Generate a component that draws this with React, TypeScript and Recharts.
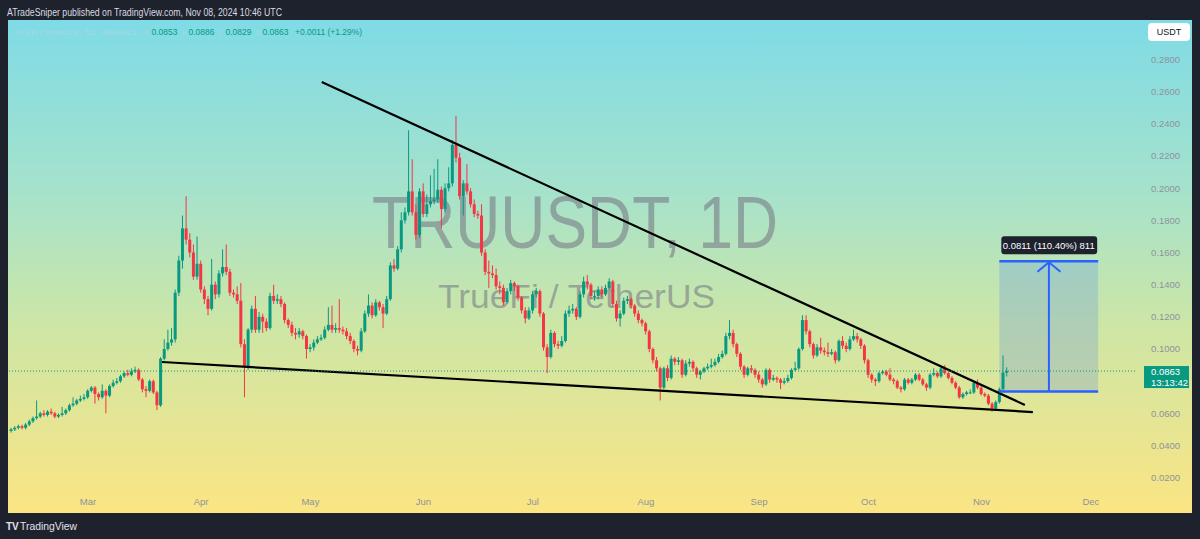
import React from "react"
import { ComposedChart, Bar, XAxis, YAxis, ReferenceLine, ReferenceArea } from "recharts"

const UP = "#089981"
const DOWN = "#f23645"
const BLUE = "#2962ff"
const FONT = "'Liberation Sans', Arial, sans-serif"

// daily TRU/USDT candles, Feb 9 2024 -> Nov 8 2024 (open = previous close)
const firstOpen = 0.049
const closes = [
  0.050, 0.051, 0.052, 0.051, 0.053, 0.055, 0.057, 0.058, 0.060, 0.059,
  0.061, 0.060, 0.058, 0.059, 0.060, 0.062, 0.065, 0.066, 0.068, 0.069,
  0.070, 0.074, 0.076, 0.072, 0.070, 0.074, 0.071, 0.077, 0.079, 0.080,
  0.083, 0.085, 0.084, 0.086, 0.087, 0.081, 0.075, 0.074, 0.080, 0.073,
  0.065, 0.094, 0.100, 0.104, 0.106, 0.135, 0.155, 0.175, 0.168, 0.160,
  0.145, 0.153, 0.137, 0.131, 0.125, 0.140, 0.134, 0.147, 0.151, 0.148,
  0.135, 0.134, 0.130, 0.103, 0.089, 0.112, 0.125, 0.112, 0.120, 0.117,
  0.113, 0.133, 0.130, 0.131, 0.128, 0.118, 0.115, 0.110, 0.109, 0.111,
  0.108, 0.100, 0.101, 0.104, 0.106, 0.107, 0.112, 0.115, 0.112, 0.113,
  0.112, 0.111, 0.108, 0.105, 0.100, 0.099, 0.111, 0.122, 0.127, 0.121,
  0.129, 0.126, 0.122, 0.131, 0.152, 0.150, 0.162, 0.180, 0.185, 0.198,
  0.185, 0.171, 0.198, 0.184, 0.190, 0.192, 0.193, 0.199, 0.187, 0.200,
  0.203, 0.227, 0.219, 0.195, 0.203, 0.198, 0.190, 0.184, 0.183, 0.160,
  0.148, 0.147, 0.146, 0.139, 0.138, 0.129, 0.136, 0.141, 0.139, 0.132,
  0.124, 0.119, 0.124, 0.134, 0.136, 0.122, 0.101, 0.095, 0.110, 0.103,
  0.102, 0.105, 0.122, 0.124, 0.125, 0.120, 0.134, 0.142, 0.140, 0.133,
  0.133, 0.137, 0.134, 0.138, 0.142, 0.128, 0.119, 0.122, 0.130, 0.131,
  0.127, 0.122, 0.118, 0.116, 0.111, 0.100, 0.093, 0.088, 0.076, 0.088,
  0.082, 0.094, 0.092, 0.093, 0.084, 0.091, 0.092, 0.088, 0.084, 0.086,
  0.088, 0.089, 0.090, 0.092, 0.095, 0.097, 0.108, 0.110, 0.103, 0.097,
  0.089, 0.084, 0.088, 0.087, 0.084, 0.081, 0.078, 0.087, 0.081, 0.082,
  0.081, 0.079, 0.080, 0.082, 0.087, 0.088, 0.100, 0.118, 0.111, 0.103,
  0.096, 0.101, 0.099, 0.098, 0.097, 0.098, 0.093, 0.105, 0.102, 0.100,
  0.106, 0.108, 0.106, 0.102, 0.093, 0.084, 0.081, 0.080, 0.085, 0.086,
  0.084, 0.081, 0.080, 0.076, 0.075, 0.081, 0.079, 0.081, 0.084, 0.081,
  0.078, 0.076, 0.084, 0.085, 0.083, 0.088, 0.085, 0.082, 0.079, 0.076,
  0.070, 0.072, 0.073, 0.073, 0.079, 0.076, 0.072, 0.071, 0.066, 0.063,
  0.067, 0.075, 0.0853, 0.0863,
]
const highs = [
  0.051, 0.052, 0.053, 0.053, 0.054, 0.056, 0.058, 0.068, 0.061, 0.062,
  0.062, 0.063, 0.061, 0.060, 0.064, 0.063, 0.066, 0.070, 0.069, 0.071,
  0.072, 0.075, 0.077, 0.077, 0.073, 0.078, 0.075, 0.078, 0.081, 0.082,
  0.084, 0.086, 0.087, 0.088, 0.089, 0.088, 0.082, 0.077, 0.081, 0.081,
  0.074, 0.095, 0.106, 0.112, 0.113, 0.137, 0.158, 0.183, 0.195, 0.172,
  0.165, 0.170, 0.155, 0.139, 0.133, 0.156, 0.142, 0.149, 0.162, 0.165,
  0.150, 0.137, 0.139, 0.141, 0.106, 0.113, 0.127, 0.133, 0.123, 0.122,
  0.119, 0.135, 0.140, 0.134, 0.133, 0.129, 0.119, 0.117, 0.113, 0.113,
  0.112, 0.109, 0.103, 0.106, 0.108, 0.109, 0.114, 0.126, 0.127, 0.116,
  0.131, 0.114, 0.113, 0.110, 0.106, 0.102, 0.113, 0.124, 0.134, 0.129,
  0.131, 0.130, 0.128, 0.133, 0.154, 0.156, 0.164, 0.185, 0.188, 0.236,
  0.218, 0.190, 0.200, 0.203, 0.196, 0.208, 0.212, 0.218, 0.201, 0.203,
  0.213, 0.230, 0.245, 0.222, 0.205, 0.215, 0.200, 0.193, 0.186, 0.190,
  0.162, 0.155, 0.152, 0.150, 0.142, 0.140, 0.138, 0.143, 0.142, 0.140,
  0.133, 0.126, 0.126, 0.136, 0.138, 0.137, 0.123, 0.103, 0.112, 0.111,
  0.105, 0.108, 0.124, 0.127, 0.128, 0.126, 0.136, 0.145, 0.146, 0.141,
  0.136, 0.139, 0.139, 0.140, 0.144, 0.143, 0.130, 0.124, 0.132, 0.133,
  0.132, 0.128, 0.124, 0.119, 0.117, 0.112, 0.101, 0.095, 0.089, 0.089,
  0.090, 0.096, 0.095, 0.095, 0.094, 0.093, 0.094, 0.093, 0.089, 0.087,
  0.089, 0.091, 0.094, 0.094, 0.097, 0.099, 0.110, 0.118, 0.112, 0.104,
  0.098, 0.090, 0.089, 0.090, 0.088, 0.086, 0.082, 0.088, 0.088, 0.084,
  0.083, 0.082, 0.082, 0.084, 0.088, 0.092, 0.101, 0.121, 0.121, 0.112,
  0.104, 0.103, 0.107, 0.101, 0.104, 0.100, 0.099, 0.106, 0.108, 0.104,
  0.108, 0.112, 0.110, 0.107, 0.103, 0.094, 0.085, 0.082, 0.086, 0.087,
  0.087, 0.088, 0.082, 0.081, 0.077, 0.082, 0.082, 0.082, 0.085, 0.085,
  0.082, 0.079, 0.085, 0.088, 0.086, 0.089, 0.090, 0.086, 0.083, 0.080,
  0.077, 0.073, 0.074, 0.075, 0.080, 0.081, 0.077, 0.073, 0.072, 0.067,
  0.068, 0.076, 0.096, 0.0886,
]
const lows = [
  0.048, 0.049, 0.050, 0.050, 0.050, 0.052, 0.054, 0.056, 0.057, 0.058,
  0.058, 0.059, 0.057, 0.057, 0.058, 0.059, 0.061, 0.064, 0.065, 0.067,
  0.068, 0.069, 0.073, 0.066, 0.068, 0.069, 0.060, 0.070, 0.076, 0.078,
  0.079, 0.082, 0.083, 0.083, 0.085, 0.080, 0.073, 0.070, 0.073, 0.072,
  0.062, 0.064, 0.093, 0.099, 0.102, 0.104, 0.133, 0.150, 0.165, 0.157,
  0.143, 0.143, 0.135, 0.128, 0.121, 0.124, 0.131, 0.132, 0.145, 0.146,
  0.133, 0.132, 0.128, 0.101, 0.070, 0.087, 0.110, 0.110, 0.110, 0.110,
  0.111, 0.112, 0.128, 0.128, 0.126, 0.116, 0.113, 0.108, 0.106, 0.107,
  0.106, 0.094, 0.098, 0.099, 0.103, 0.105, 0.106, 0.111, 0.110, 0.110,
  0.110, 0.109, 0.106, 0.103, 0.098, 0.096, 0.098, 0.110, 0.120, 0.119,
  0.120, 0.124, 0.113, 0.121, 0.130, 0.148, 0.149, 0.160, 0.178, 0.183,
  0.183, 0.168, 0.169, 0.182, 0.182, 0.188, 0.190, 0.191, 0.175, 0.185,
  0.198, 0.201, 0.216, 0.193, 0.183, 0.196, 0.188, 0.182, 0.181, 0.158,
  0.146, 0.138, 0.144, 0.137, 0.134, 0.127, 0.128, 0.134, 0.136, 0.130,
  0.122, 0.116, 0.118, 0.122, 0.132, 0.120, 0.099, 0.085, 0.094, 0.101,
  0.100, 0.101, 0.104, 0.120, 0.122, 0.118, 0.119, 0.132, 0.137, 0.131,
  0.130, 0.131, 0.132, 0.133, 0.137, 0.126, 0.117, 0.114, 0.121, 0.128,
  0.125, 0.120, 0.116, 0.114, 0.109, 0.098, 0.091, 0.086, 0.068, 0.075,
  0.080, 0.081, 0.090, 0.090, 0.082, 0.083, 0.089, 0.086, 0.082, 0.081,
  0.085, 0.087, 0.088, 0.089, 0.091, 0.094, 0.096, 0.106, 0.101, 0.095,
  0.087, 0.082, 0.083, 0.085, 0.082, 0.079, 0.076, 0.077, 0.079, 0.080,
  0.079, 0.075, 0.078, 0.079, 0.081, 0.086, 0.087, 0.099, 0.109, 0.101,
  0.094, 0.095, 0.097, 0.096, 0.095, 0.096, 0.091, 0.092, 0.100, 0.098,
  0.099, 0.105, 0.104, 0.100, 0.091, 0.082, 0.079, 0.077, 0.079, 0.084,
  0.083, 0.080, 0.078, 0.075, 0.073, 0.074, 0.078, 0.078, 0.080, 0.080,
  0.077, 0.074, 0.075, 0.083, 0.082, 0.082, 0.084, 0.081, 0.078, 0.075,
  0.069, 0.069, 0.071, 0.072, 0.072, 0.075, 0.071, 0.070, 0.065, 0.061,
  0.062, 0.066, 0.074, 0.0829,
]

// candle index of the first day of each month
const monthTicks = [21, 52, 82, 113, 143, 174, 205, 235, 266, 296]
const monthLabels = ["Mar", "Apr", "May", "Jun", "Jul", "Aug", "Sep", "Oct", "Nov", "Dec"]
const priceTicks = [0.02, 0.04, 0.06, 0.1, 0.12, 0.14, 0.16, 0.18, 0.2, 0.22, 0.24, 0.26, 0.28]

// drawings (candle index, price)
const resistance = [{ x: 85.1, y: 0.266 }, { x: 277.9, y: 0.0652 }]
const support = [{ x: 41.3, y: 0.0919 }, { x: 280.1, y: 0.0608 }]
const measureX = [270.9, 298.0, 284.5]
const measureY = [0.0735, 0.1546]
const measureText = "0.0811 (110.40%) 811"
const countdown = "13:13:42"

const candles = closes.map((c, i) => {
  const o = i === 0 ? firstOpen : closes[i - 1]
  const h = highs[i]
  const l = lows[i]
  return { i, o, h, l, c, range: [Math.min(l, o, c), Math.max(h, o, c)] }
})
const last = candles[candles.length - 1]

function Candle(props: any) {
  const { x, y, width, height, payload } = props
  if (x == null || !payload) return null
  const { o, c, range } = payload
  const top = Math.min(y, y + height)
  const span = Math.abs(height)
  const k = range[1] > range[0] ? span / (range[1] - range[0]) : 0
  const bTop = top + (range[1] - Math.max(o, c)) * k
  const bBot = top + (range[1] - Math.min(o, c)) * k
  const color = c >= o ? UP : DOWN
  const cx = x + width / 2
  return (
    <g>
      <line x1={cx} x2={cx} y1={top} y2={top + span} stroke={color} strokeWidth={1} />
      <rect x={cx - 1.5} y={bTop} width={3} height={Math.max(1, bBot - bTop)} fill={color} />
    </g>
  )
}

const priceTag = (p: any) => {
  const vb = p.viewBox || {}
  const right = (vb.x ?? 0) + (vb.width ?? 0)
  const y = vb.y ?? 0
  return (
    <g>
      <rect x={right + 9} y={y - 5} width={45} height={22} fill={UP} />
      <text x={right + 16} y={y + 4} fill="#fff" fontSize={9.5} fontFamily={FONT}>
        {last.c.toFixed(4)}
      </text>
      <text x={right + 16} y={y + 15} fill="#fff" fontSize={9.5} fontFamily={FONT}>
        {countdown}
      </text>
    </g>
  )
}

const measureLabel = (p: any) => {
  const vb = p.viewBox || {}
  const x = vb.x ?? 0
  const w = vb.width ?? 0
  const y = vb.y ?? 0
  return (
    <g>
      <rect x={x + 2} y={y - 25} width={w - 3} height={18} rx={3} fill="#1e222d" />
      <text x={x + w / 2} y={y - 12.5} fill="#fff" fontSize={9.5} textAnchor="middle" fontFamily={FONT}>
        {measureText}
      </text>
    </g>
  )
}

const arrow = (p: any) => {
  const { x1, y1, x2, y2 } = p
  const top = Math.min(y1, y2)
  const bot = Math.max(y1, y2)
  return (
    <g>
      <line x1={x1} x2={x2} y1={bot} y2={top} stroke={BLUE} strokeWidth={2} />
      <polyline
        points={`${x1 - 11.5},${top + 10.5} ${x1},${top + 1} ${x1 + 11.5},${top + 10.5}`}
        fill="none"
        stroke={BLUE}
        strokeWidth={2}
      />
    </g>
  )
}

// OHLC legend entries: [letter, value, x of letter]
const legendItems: [string, number, number][] = [
  ["O", last.o, 145],
  ["H", last.h, 182],
  ["L", last.l, 219],
  ["C", last.c, 256],
]

export default function App() {
  const axisText = { fill: "#8d939b", fontSize: 9.5, fontFamily: FONT }
  return (
    <div style={{ position: "fixed", left: 0, top: 0, width: 1200, height: 539, background: "#1e222d", overflow: "hidden" }}>
      <div
        style={{
          position: "absolute",
          left: 8,
          top: 20,
          width: 1184,
          height: 493,
          background: "linear-gradient(180deg, #7fdbe6 0%, #a6e2cb 35%, #cde6a6 62%, #fbe583 100%)",
        }}
      />
      <svg width={1200} height={539} style={{ position: "absolute", left: 0, top: 0 }}>
        <text x={7} y={15.5} fill="#d9dbe0" fontSize={10} fontFamily={FONT} textLength={275} lengthAdjust="spacingAndGlyphs">
          ATradeSniper published on TradingView.com, Nov 08, 2024 10:46 UTC
        </text>
        <g fontFamily={FONT}>
          <text x={15} y={34.5} fontSize={7.5} fill="#d1d4dc" fillOpacity={0.5} textLength={123} lengthAdjust="spacingAndGlyphs">
            TrueFi / TetherUS · 1D · BINANCE
          </text>
          {legendItems.map(([k, v, x]) => (
            <g key={k}>
              <text x={x} y={34.5} fontSize={7} fill="#d1d4dc" fillOpacity={0.5} textLength={4.5} lengthAdjust="spacingAndGlyphs">
                {k}
              </text>
              <text x={x + 6.5} y={34.5} fontSize={9} fill={UP} textLength={26} lengthAdjust="spacingAndGlyphs">
                {v.toFixed(4)}
              </text>
            </g>
          ))}
          <text x={295} y={34.5} fontSize={9} fill={UP} textLength={67} lengthAdjust="spacingAndGlyphs">+0.0011 (+1.29%)</text>
        </g>
        <g fill="#787b86" fillOpacity={0.6} fontFamily={FONT}>
          <text x={372} y={248} fontSize={74} textLength={406} lengthAdjust="spacingAndGlyphs">TRUUSDT, 1D</text>
          <text x={438} y={308} fontSize={34} textLength={277} lengthAdjust="spacingAndGlyphs">TrueFi / TetherUS</text>
        </g>
        <text x={6} y={529.5} fill="#e0e3eb" fontSize={10} fontWeight="bold" fontFamily={FONT}>TV</text>
        <text x={20} y={529.5} fill="#e0e3eb" fontSize={10} fontFamily={FONT} textLength={57} lengthAdjust="spacingAndGlyphs">TradingView</text>
      </svg>
      <div style={{ position: "absolute", left: 8, top: 20 }}>
        <ComposedChart width={1184} height={493} data={candles} margin={{ top: 0, right: 0, bottom: 0, left: 0 }}>
          <XAxis
            dataKey="i"
            type="number"
            domain={[-0.93, 308.1]}
            allowDataOverflow
            ticks={monthTicks}
            interval={0}
            tickFormatter={(v: number) => monthLabels[monthTicks.indexOf(v)] ?? ""}
            axisLine={false}
            tickLine={false}
            tickSize={0}
            tickMargin={5}
            height={20}
            tick={axisText}
          />
          <YAxis
            orientation="right"
            type="number"
            domain={[0.01045, 0.3046]}
            allowDataOverflow
            ticks={priceTicks}
            interval={0}
            tickFormatter={(v: number) => v.toFixed(4)}
            axisLine={false}
            tickLine={false}
            tickSize={0}
            tickMargin={16}
            width={57}
            tick={axisText}
          />
          <Bar dataKey="range" barSize={3} shape={Candle} isAnimationActive={false} />
          <ReferenceLine segment={resistance} stroke="#000" strokeWidth={2.2} ifOverflow="visible" />
          <ReferenceLine segment={support} stroke="#000" strokeWidth={2.2} ifOverflow="visible" />
          <ReferenceArea
            x1={measureX[0]}
            x2={measureX[1]}
            y1={measureY[0]}
            y2={measureY[1]}
            fill={BLUE}
            fillOpacity={0.18}
            stroke="none"
            ifOverflow="visible"
          />
          <ReferenceLine
            segment={[{ x: measureX[0], y: measureY[0] }, { x: measureX[1], y: measureY[0] }]}
            stroke={BLUE}
            strokeWidth={2.5}
            ifOverflow="visible"
          />
          <ReferenceLine
            segment={[{ x: measureX[0], y: measureY[1] }, { x: measureX[1], y: measureY[1] }]}
            stroke={BLUE}
            strokeWidth={2.5}
            ifOverflow="visible"
            label={measureLabel}
          />
          <ReferenceLine
            segment={[{ x: measureX[2], y: measureY[0] }, { x: measureX[2], y: measureY[1] }]}
            stroke={BLUE}
            strokeWidth={2}
            ifOverflow="visible"
            shape={arrow}
          />
          <ReferenceLine y={last.c} stroke={UP} strokeDasharray="1 2" ifOverflow="visible" label={priceTag} />
        </ComposedChart>
      </div>
      <div
        style={{
          position: "absolute",
          left: 1148,
          top: 23,
          width: 42,
          height: 18,
          background: "#fff",
          borderRadius: 4,
          color: "#131722",
          fontFamily: FONT,
          fontSize: 9,
          lineHeight: "18px",
          textAlign: "center",
        }}
      >
        USDT
      </div>
    </div>
  )
}
